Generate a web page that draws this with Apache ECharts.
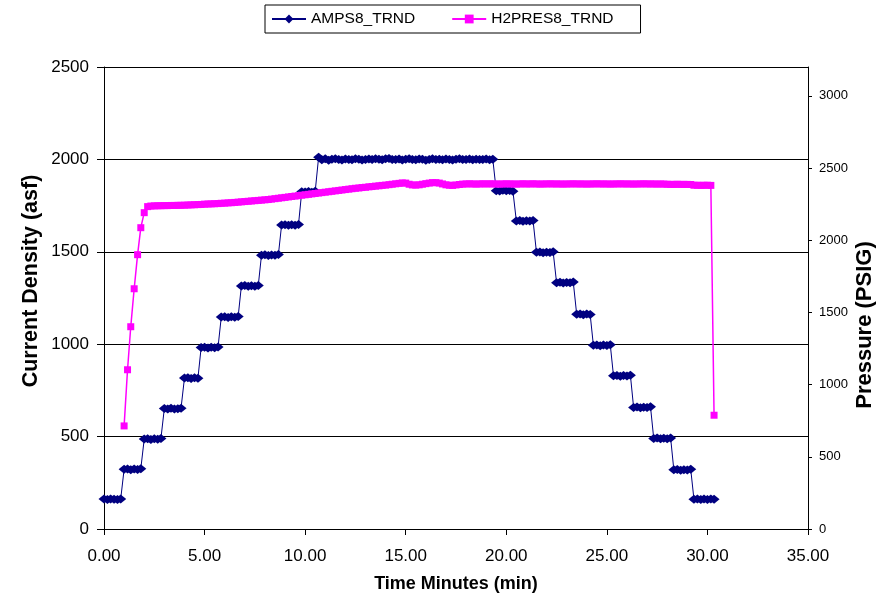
<!DOCTYPE html>
<html>
<head>
<meta charset="utf-8">
<script src="https://cdn.jsdelivr.net/npm/echarts@6/dist/echarts.min.js"></script>
<style>
html,body{margin:0;padding:0;background:#fff;}
#chart{width:884px;height:598px;}
</style>
</head>
<body>
<div id="chart"></div>
<script>
// Sample times (minutes), one row per minute (10-second logging)
const timeMin = [
 0.00,0.17,0.33,0.50,0.67,0.83,
 1.00,1.17,1.33,1.50,1.67,1.83,
 2.00,2.17,2.33,2.50,2.67,2.83,
 3.00,3.17,3.33,3.50,3.67,3.83,
 4.00,4.17,4.33,4.50,4.67,4.83,
 5.00,5.17,5.33,5.50,5.67,5.83,
 6.00,6.17,6.33,6.50,6.67,6.83,
 7.00,7.17,7.33,7.50,7.67,7.83,
 8.00,8.17,8.33,8.50,8.67,8.83,
 9.00,9.17,9.33,9.50,9.67,9.83,
 10.00,10.17,10.33,10.50,10.67,10.83,
 11.00,11.17,11.33,11.50,11.67,11.83,
 12.00,12.17,12.33,12.50,12.67,12.83,
 13.00,13.17,13.33,13.50,13.67,13.83,
 14.00,14.17,14.33,14.50,14.67,14.83,
 15.00,15.17,15.33,15.50,15.67,15.83,
 16.00,16.17,16.33,16.50,16.67,16.83,
 17.00,17.17,17.33,17.50,17.67,17.83,
 18.00,18.17,18.33,18.50,18.67,18.83,
 19.00,19.17,19.33,19.50,19.67,19.83,
 20.00,20.17,20.33,20.50,20.67,20.83,
 21.00,21.17,21.33,21.50,21.67,21.83,
 22.00,22.17,22.33,22.50,22.67,22.83,
 23.00,23.17,23.33,23.50,23.67,23.83,
 24.00,24.17,24.33,24.50,24.67,24.83,
 25.00,25.17,25.33,25.50,25.67,25.83,
 26.00,26.17,26.33,26.50,26.67,26.83,
 27.00,27.17,27.33,27.50,27.67,27.83,
 28.00,28.17,28.33,28.50,28.67,28.83,
 29.00,29.17,29.33,29.50,29.67,29.83,
 30.00,30.17,30.33
];

// AMPS8_TRND current density (asf)
const ampsValues = [
 162,160,163,161,159,162,
 323,325,321,324,322,326,
 487,489,484,488,486,490,
 652,650,653,649,651,654,
 817,819,815,818,816,982,
 984,980,983,981,985,1147,
 1149,1145,1148,1146,1150,1315,
 1317,1313,1316,1314,1318,1482,
 1484,1480,1483,1481,1485,1645,
 1647,1643,1646,1644,1648,1825,
 1823,1826,1822,1827,2012,1998,
 2003,1996,2001,2004,1999,1997,
 2002,2000,1998,2003,2001,1997,
 2000,2002,1999,2004,2001,1998,
 2003,2005,2000,1999,2002,1997,
 2001,2004,2000,1998,2002,2001,
 1996,2000,2003,1999,2001,1998,
 2002,2000,1997,2001,2003,1999,
 2000,2002,1998,2001,1999,2000,
 2002,1998,2001,1831,1829,1833,
 1830,1832,1828,1667,1669,1665,
 1668,1666,1670,1497,1499,1495,
 1498,1496,1500,1333,1335,1331,
 1334,1332,1336,1162,1164,1160,
 1163,1161,994,996,992,995,
 993,997,829,831,827,830,
 828,832,658,660,656,659,
 657,661,490,492,488,491,
 489,493,320,322,318,321,
 319,323,161,163,159,162,
 160,162,161
];

// H2PRES8_TRND pressure (PSIG)
const pressureValues = [
 null,null,null,null,null,null,
 714,1103,1401,1664,1900,2087,
 2191,2233,2237,2238,2239,2239,
 2240,2240,2241,2241,2242,2242,
 2243,2244,2245,2246,2247,2248,
 2250,2251,2252,2253,2254,2256,
 2257,2259,2260,2262,2264,2266,
 2268,2270,2272,2274,2276,2278,
 2280,2282,2285,2288,2291,2294,
 2297,2300,2303,2306,2309,2312,
 2315,2318,2321,2324,2327,2330,
 2333,2336,2339,2342,2345,2348,
 2351,2354,2357,2360,2362,2365,
 2367,2370,2372,2375,2377,2380,
 2382,2385,2388,2391,2394,2397,
 2396,2388,2383,2382,2384,2388,
 2392,2396,2399,2399,2396,2390,
 2384,2381,2380,2383,2386,2389,
 2390,2391,2390,2389,2390,2391,
 2390,2391,2390,2390,2389,2390,
 2391,2390,2390,2389,2390,2391,
 2390,2390,2391,2390,2389,2390,
 2390,2391,2390,2390,2390,2389,
 2390,2390,2391,2390,2390,2390,
 2389,2390,2390,2391,2390,2390,
 2390,2389,2390,2390,2391,2390,
 2390,2390,2389,2390,2390,2391,
 2390,2390,2390,2389,2390,2389,
 2388,2387,2387,2388,2387,2387,
 2387,2386,2381,2381,2380,2381,
 2381,2380,788
];

const leftTicks = [0, 500, 1000, 1500, 2000, 2500];
const rightTicks = [0, 500, 1000, 1500, 2000, 2500, 3000];
const xTicks = [0, 5, 10, 15, 20, 25, 30, 35];

const seriesNames = ['AMPS8_TRND', 'H2PRES8_TRND'];

const ampsData = timeMin.map((t, i) => [t, ampsValues[i]]);
const presData = [];
timeMin.forEach((t, i) => { if (pressureValues[i] !== null) presData.push([t, pressureValues[i]]); });

const FONT = '"Liberation Sans", Arial, sans-serif';
const plain = v => String(v);
const chart = echarts.init(document.getElementById('chart'), null, {renderer: 'canvas'});
chart.setOption({
  animation: false,
  backgroundColor: '#ffffff',
  textStyle: {fontFamily: FONT, color: '#000'},
  legend: {
    data: seriesNames,
    left: 265, top: 5,
    orient: 'horizontal',
    borderColor: '#000', borderWidth: 1,
    padding: [6, 27, 6, 6],
    itemGap: 36, itemWidth: 34, itemHeight: 11,
    textStyle: {fontFamily: FONT, fontSize: 15.5, color: '#000'}
  },
  grid: {left: 104, right: 75, top: 67, bottom: 69},
  xAxis: {
    type: 'value', min: 0, max: 35, interval: 5,
    name: 'Time Minutes (min)', nameLocation: 'middle', nameGap: 46, nameMoveOverlap: false,
    nameTextStyle: {fontFamily: FONT, fontWeight: 'bold', fontSize: 18, color: '#000'},
    axisLine: {show: true, lineStyle: {color: '#000', width: 1}},
    axisTick: {show: true, length: 6, lineStyle: {color: '#000'}, customValues: xTicks},
    axisLabel: {fontFamily: FONT, fontSize: 17, color: '#000', margin: 19, customValues: xTicks,
      formatter: v => Number(v).toFixed(2)},
    splitLine: {show: false}
  },
  yAxis: [
    {
      type: 'value', min: 0, max: 2500, interval: 500, position: 'left',
      name: 'Current Density (asf)', nameLocation: 'middle', nameRotate: 90, nameGap: 62, nameMoveOverlap: false,
      nameTextStyle: {fontFamily: FONT, fontWeight: 'bold', fontSize: 21.5, color: '#000', padding: [0, 0, 0, 34]},
      axisLine: {show: true, lineStyle: {color: '#000', width: 1}},
      axisTick: {show: true, length: 7, lineStyle: {color: '#000'}, customValues: leftTicks},
      axisLabel: {fontFamily: FONT, fontSize: 17, color: '#000', margin: 15, customValues: leftTicks, formatter: plain},
      splitLine: {show: true, lineStyle: {color: '#000', width: 1}}
    },
    {
      type: 'value', min: 0, max: 3200, interval: 500, position: 'right',
      name: 'Pressure (PSIG)', nameLocation: 'middle', nameRotate: 90, nameGap: 46, nameMoveOverlap: false,
      nameTextStyle: {fontFamily: FONT, fontWeight: 'bold', fontSize: 22, color: '#000', padding: [0, 54, 0, 0]},
      axisLine: {show: true, lineStyle: {color: '#000', width: 1}},
      axisTick: {show: true, length: 4, lineStyle: {color: '#000'}, customValues: rightTicks},
      axisLabel: {fontFamily: FONT, fontSize: 13, color: '#000', margin: 11, customValues: rightTicks, formatter: plain},
      splitLine: {show: false}
    }
  ],
  series: [
    {
      name: seriesNames[0], type: 'line', yAxisIndex: 0, data: ampsData,
      symbol: 'diamond', symbolSize: [11, 9], showSymbol: true, showAllSymbol: true,
      lineStyle: {color: '#000080', width: 1},
      itemStyle: {color: '#000080', borderWidth: 0},
      z: 2
    },
    {
      name: seriesNames[1], type: 'line', yAxisIndex: 1, data: presData,
      symbol: 'rect', symbolSize: 7, showSymbol: true, showAllSymbol: true,
      lineStyle: {color: '#FF00FF', width: 1.5},
      itemStyle: {color: '#FF00FF', borderWidth: 0},
      z: 3
    }
  ]
});
</script>
</body>
</html>
